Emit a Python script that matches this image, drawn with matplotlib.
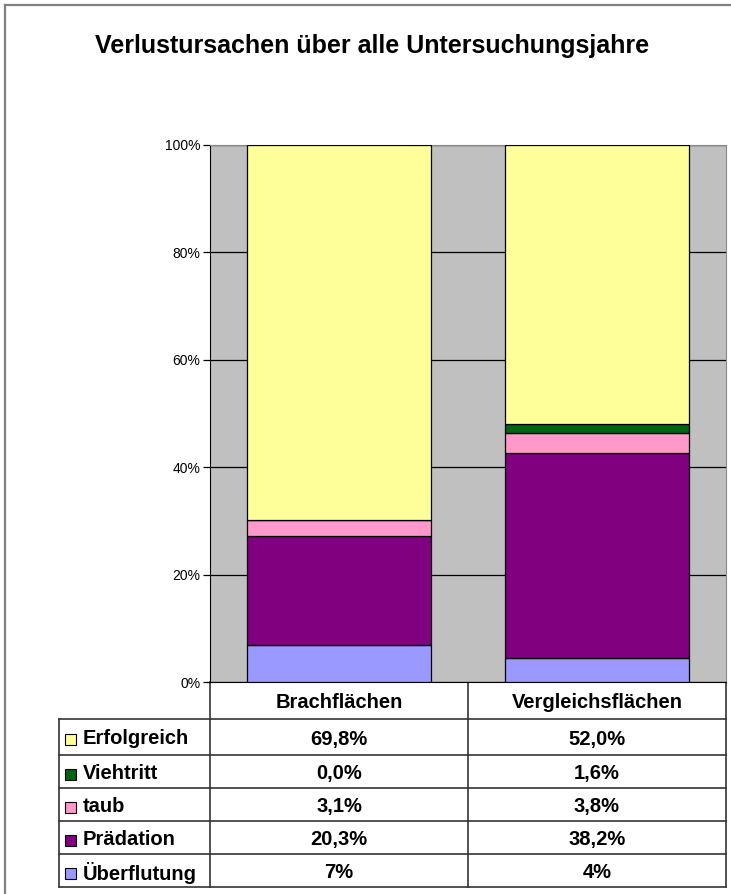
import numpy as np
import matplotlib
matplotlib.use("Agg")
import matplotlib.pyplot as plt
from matplotlib.patches import Rectangle
from matplotlib.transforms import blended_transform_factory

plt.rcParams['font.family'] = ['Liberation Sans', 'DejaVu Sans']

# data
categories = ['Brachflächen', 'Vergleichsflächen']
causes = ['Erfolgreich', 'Viehtritt', 'taub', 'Prädation', 'Überflutung']
colors = ['#FFFF99', '#006411', '#FF99CC', '#800080', '#9999FF']
erfolgreich = [69.8, 52.0]
viehtritt = [0.0, 1.6]
taub = [3.1, 3.8]
praedation = [20.3, 38.2]
ueberflutung = [6.8, 4.4]
brach_labels = ['69,8%', '0,0%', '3,1%', '20,3%', '7%']
vergl_labels = ['52,0%', '1,6%', '3,8%', '38,2%', '4%']
yticks = [0, 20, 40, 60, 80, 100]

W, H = 731, 894
fig = plt.figure(figsize=(W / 100, H / 100), dpi=100)


def px(x0, y0, x1, y1):
    return [x0 / W, 1 - y1 / H, (x1 - x0) / W, (y1 - y0) / H]


# overlay in pixel coordinates for frame and table
ov = fig.add_axes([0, 0, 1, 1])
ov.set_xlim(0, W)
ov.set_ylim(H, 0)
ov.axis('off')

ax = fig.add_axes(px(210, 145, 726, 682))
ax.set_facecolor('#C0C0C0')
x = np.arange(len(categories))
bottom = np.zeros(len(categories))
series = [ueberflutung, praedation, taub, viehtritt, erfolgreich]
for vals, col in zip(series, colors[::-1]):
    ax.bar(x, vals, 0.715, bottom=bottom, color=col, edgecolor='black',
           linewidth=0.9, zorder=3)
    bottom += np.array(vals)

ax.set_xlim(-0.5, 1.5)
ax.set_ylim(0, 100)
ax.set_yticks(yticks)
ax.set_yticklabels([f'{v}%' for v in yticks])
ax.set_xticks([])
ax.set_axisbelow(True)
ax.yaxis.grid(True, color='black', linewidth=0.9)
ax.tick_params(axis='y', direction='out', length=5, width=0.9,
               labelsize=10, pad=2)
for side in ['top', 'right']:
    ax.spines[side].set_color('#888888')
ax.spines['left'].set_color('black')
ax.spines['bottom'].set_color('black')

# title
fig.text(372 / W, 1 - 46 / H, 'Verlustursachen über alle Untersuchungsjahre',
         ha='center', va='center', fontsize=18, fontweight='bold')

# outer frame (top and left edges visible)
ov.plot([5, 5], [5, H], color='#808080', lw=1.6)
ov.plot([5, W], [5, 5], color='#808080', lw=1.6)

# data table
lc = '#333333'
row_y = [719, 755, 788, 821, 854, 887]
tr = blended_transform_factory(ax.transData, ov.transData)
for y in row_y:
    ov.plot([59, 726], [y, y], color=lc, lw=1.2)
ov.plot([59, 59], [row_y[0], row_y[-1]], color=lc, lw=1.2)
for xs in [-0.5, 0.5, 1.5]:
    ov.plot([xs, xs], [682, row_y[-1]], color=lc, lw=1.2, transform=tr)

for i, cat in enumerate(categories):
    ov.text(i, 702, cat, transform=tr, ha='center', va='center',
            fontsize=14.5, fontweight='bold')

for r, (name, col) in enumerate(zip(causes, colors)):
    yc = (row_y[r] + row_y[r + 1]) / 2 + 2
    ov.add_patch(Rectangle((65, yc - 5), 11, 11, facecolor=col,
                           edgecolor='black', lw=0.8))
    ov.text(83, yc, name, ha='left', va='center', fontsize=14.5,
            fontweight='bold')
    for i, labels in enumerate([brach_labels, vergl_labels]):
        ov.text(i, yc, labels[r], transform=tr, ha='center', va='center',
                fontsize=14.5, fontweight='bold')

fig.savefig('out.png', dpi=100)
